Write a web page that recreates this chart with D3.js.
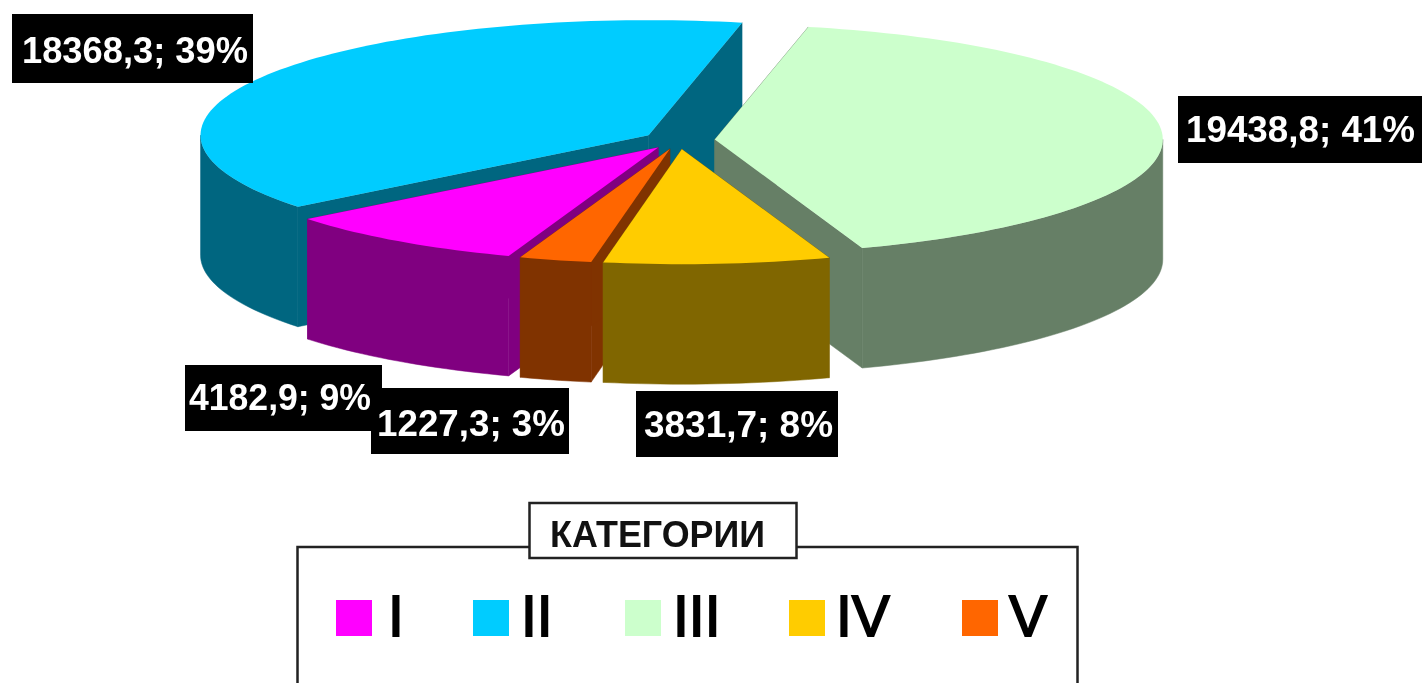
<!DOCTYPE html>
<html>
<head>
<meta charset="utf-8">
<script src="https://cdnjs.cloudflare.com/ajax/libs/d3/7.8.5/d3.min.js"></script>
<style>
html,body{margin:0;padding:0;background:#fff;overflow:hidden}
svg{display:block;filter:blur(0.7px)}
</style>
</head>
<body>
<svg id="c" width="1422" height="683"></svg>
<script>
const categories = ["I","II","III","IV","V"];
const values = [4182.9,18368.3,19438.8,3831.7,1227.3];
const percents = ["9%","39%","41%","8%","3%"];
const topColors = ["#ff00ff","#00ccff","#ccffcc","#ffcc00","#ff6600"];
const wallColors = ["#800080","#006680","#667f66","#806600","#803300"];
const drawOrder = [1,2,0,4,3];
const labelBoxes = [[185,365,197,66],[12,14,241,69],[1178,96,244,67],[636,391,202,66],[371,388,198,66]];
const labelTextX = [189,22,1186,644,377];
const labelTextW = [182,226,229,189,188];
const labelBaseline = [410,63,142,437,436];
const legendX = [336,473,625,789,962];
const legendTextX = [388,521,673,836,1009];

const svg = d3.select("#c");
const rad = d => d*Math.PI/180;
const explode = 0.08, cx = 679, cy = 140, rx = 448, ry = 115, depth = 120;
const x = d3.scaleLinear().domain([-1,1]).range([cx-rx,cx+rx]);
const y = d3.scaleLinear().domain([-1,1]).range([cy-ry,cy+ry]);
const pie = d3.pie().sort(null).startAngle(rad(199.5)).endAngle(rad(199.5+360));
const arcs = pie(values);
const line = d3.line();

function pt(d,r,a,dz){
  const m=(d.startAngle+d.endAngle)/2;
  return [x(r*Math.sin(a)+explode*Math.sin(m)), y(-r*Math.cos(a)-explode*Math.cos(m))+(dz||0)];
}
function samples(a0,a1){
  const n=Math.max(2,Math.ceil((a1-a0)/rad(1.5)));
  return d3.range(n+1).map(i=>a0+(a1-a0)*i/n);
}
function visibleRange(d){
  // the rim shows only where it faces the viewer (90..270 degrees, modulo a turn)
  let best=null;
  for(const k of [0,1,2]){
    const lo=rad(90)+k*2*Math.PI-2*Math.PI, hi=rad(270)+k*2*Math.PI-2*Math.PI;
    const a=Math.max(d.startAngle,lo), b=Math.min(d.endAngle,hi);
    if(b>a && (!best || b-a>best[1]-best[0])) best=[a,b];
  }
  return best;
}
const pieG = svg.append("g");
drawOrder.forEach(i=>{
  const d=arcs[i], g=pieG.append("g");
  // radial walls
  [d.startAngle,d.endAngle].forEach(a=>{
    g.append("path").attr("fill",wallColors[i]).attr("stroke",wallColors[i]).attr("stroke-width",0.5)
     .attr("d",line([pt(d,0,a),pt(d,1,a),pt(d,1,a,depth),pt(d,0,a,depth)])+"Z");
  });
  // outer wall
  const vr=visibleRange(d);
  if(vr){
    const s=samples(vr[0],vr[1]);
    g.append("path").attr("fill",wallColors[i]).attr("stroke",wallColors[i]).attr("stroke-width",0.5)
     .attr("d",line(s.map(a=>pt(d,1,a)).concat(s.slice().reverse().map(a=>pt(d,1,a,depth))))+"Z");
  }
  // top face
  g.append("path").attr("fill",topColors[i])
   .attr("d",line([pt(d,0,d.startAngle)].concat(samples(d.startAngle,d.endAngle).map(a=>pt(d,1,a))))+"Z");
});

// data labels
const fmt = v => String(v).replace(".",",");
categories.forEach((c,i)=>{
  const b=labelBoxes[i];
  svg.append("rect").attr("x",b[0]).attr("y",b[1]).attr("width",b[2]).attr("height",b[3]).attr("fill","#000");
});
categories.forEach((c,i)=>{
  const t=fmt(values[i])+"; "+percents[i];
  svg.append("text").attr("x",labelTextX[i]).attr("y",labelBaseline[i])
    .attr("font-family","'Liberation Sans',Arial,sans-serif").attr("font-weight","bold")
    .attr("font-size",37).attr("fill","#fff")
    .attr("textLength",labelTextW[i]).attr("lengthAdjust","spacingAndGlyphs").text(t);
});

// legend
const lg=svg.append("g");
lg.append("rect").attr("x",297.5).attr("y",547).attr("width",780).attr("height",160)
  .attr("fill","#fff").attr("stroke","#222").attr("stroke-width",2.5);
lg.append("rect").attr("x",529.5).attr("y",503).attr("width",267).attr("height",55)
  .attr("fill","#fff").attr("stroke","#222").attr("stroke-width",2.5);
lg.append("text").attr("x",550).attr("y",547)
  .attr("font-family","'Liberation Sans',Arial,sans-serif").attr("font-weight","bold")
  .attr("font-size",36).attr("fill","#111").attr("textLength",215).attr("lengthAdjust","spacingAndGlyphs").text("КАТЕГОРИИ");
categories.forEach((c,i)=>{
  lg.append("rect").attr("x",legendX[i]).attr("y",600).attr("width",36).attr("height",36).attr("fill",topColors[i]);
  lg.append("text").attr("x",legendTextX[i]).attr("y",636)
    .attr("font-family","'Liberation Sans',Arial,sans-serif")
    .attr("font-size",57).attr("fill","#000").attr("stroke","#000").attr("stroke-width",1.8).text(c);
});
</script>
</body>
</html>
